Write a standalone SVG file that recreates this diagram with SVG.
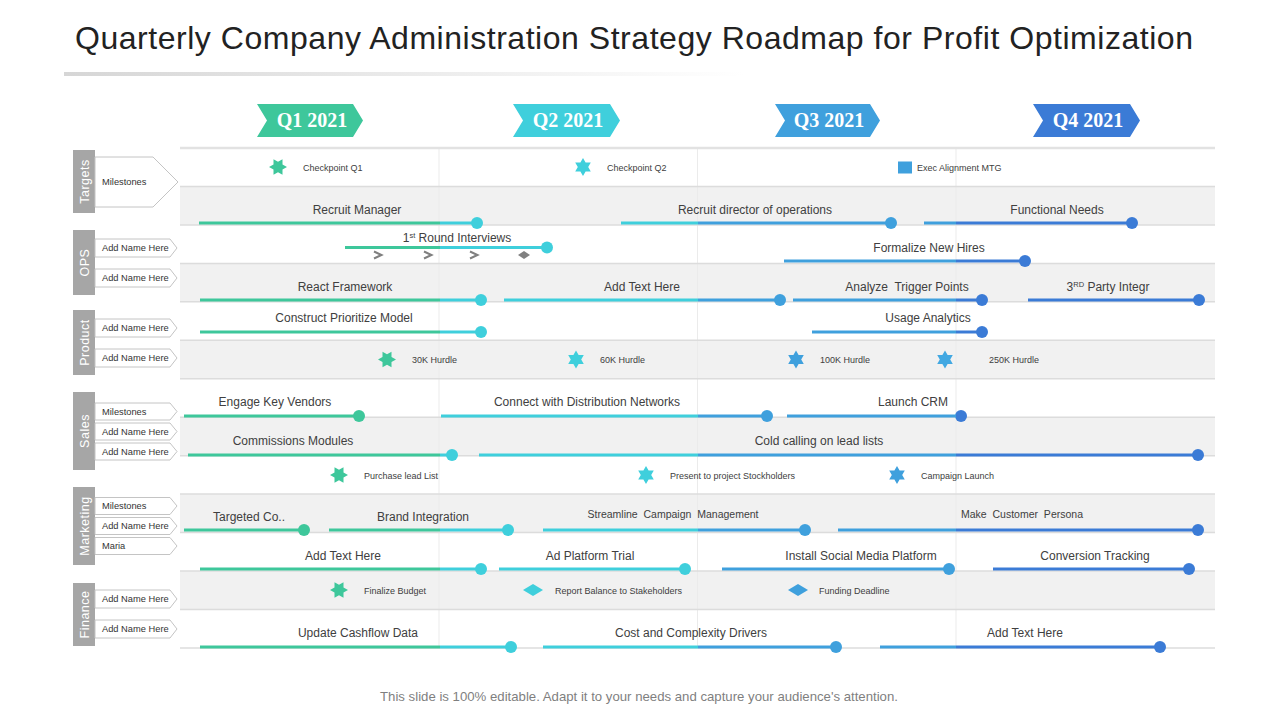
<svg xmlns="http://www.w3.org/2000/svg" xmlns:xlink="http://www.w3.org/1999/xlink" width="1280" height="720" viewBox="0 0 1280 720">
<defs>
<linearGradient id="qg" gradientUnits="userSpaceOnUse" x1="180" y1="0" x2="1215" y2="0">
<stop offset="0" stop-color="#3ec79b"/><stop offset="0.2512" stop-color="#3ec79b"/>
<stop offset="0.2512" stop-color="#3fcfdc"/><stop offset="0.5005" stop-color="#3fcfdc"/>
<stop offset="0.5005" stop-color="#3fa0dd"/><stop offset="0.7498" stop-color="#3fa0dd"/>
<stop offset="0.7498" stop-color="#3b7bd6"/><stop offset="1" stop-color="#3b7bd6"/>
</linearGradient>
<linearGradient id="ul" x1="0" y1="0" x2="1" y2="0">
<stop offset="0" stop-color="#d6d6d6"/><stop offset="1" stop-color="#ffffff"/>
</linearGradient>
<polygon id="starH" points="9,0 4.5,2.6 4.5,7.79 0,5.2 -4.5,7.79 -4.5,2.6 -9,0 -4.5,-2.6 -4.5,-7.79 0,-5.2 4.5,-7.79 4.5,-2.6"/>
<polygon id="starV" points="0,-9 2.6,-4.5 7.79,-4.5 5.2,0 7.79,4.5 2.6,4.5 0,9 -2.6,4.5 -7.79,4.5 -5.2,0 -7.79,-4.5 -2.6,-4.5"/>
<polygon id="tag" points="0,-9 75,-9 82,0 75,9 0,9"/>
<polygon id="tagS" points="0,-8.5 75,-8.5 82,0 75,8.5 0,8.5"/>
<polygon id="dia" points="-10,0 0,-6 10,0 0,6"/>
</defs>
<style>
text{font-family:"Liberation Sans",Arial,sans-serif}
.title{font-size:32px;fill:#222}
.q{font-family:"Liberation Serif","DejaVu Serif",serif;font-size:20px;font-weight:bold;fill:#fff;text-anchor:middle}
.band{fill:#f1f1f1}
.hl{stroke:#dcdcdc;stroke-width:1.5}
.vl{stroke:#ebebeb;stroke-width:1}
.cat{fill:#a6a6a6}
.catt{font-size:12.5px;fill:#fff;text-anchor:middle;letter-spacing:0.5px}
.tg{fill:#fff;stroke:#c4c4c4;stroke-width:1}
.tgt{font-size:9.3px;fill:#333}
.bar{stroke:url(#qg);stroke-width:3;fill:none}
.dot{fill:url(#qg)}
.lb{font-size:12px;fill:#404040;text-anchor:middle}
.lbs{font-size:10.5px;fill:#404040;text-anchor:middle}
.sm{font-size:9px;fill:#404040}
.chev{fill:none;stroke:#808080;stroke-width:2}
.foot{font-size:13.2px;fill:#7f7f7f;text-anchor:middle}
</style>

<g id="title">
<text class="title" x="75" y="49" textLength="1118" lengthAdjust="spacing">Quarterly Company Administration Strategy Roadmap for Profit Optimization</text>
<rect x="64" y="72" width="680" height="4" fill="url(#ul)"/>
</g>

<g id="quarters">
<g id="q1"><polygon points="257,104 353,104 363,120.5 353,137 257,137 267,120.5" fill="#3ec79b"/><text class="q" x="312" y="127">Q1 2021</text></g>
<g id="q2"><polygon points="513,104 610,104 620,120.5 610,137 513,137 523,120.5" fill="#3fcfdc"/><text class="q" x="568" y="127">Q2 2021</text></g>
<g id="q3"><polygon points="775,104 870,104 880,120.5 870,137 775,137 785,120.5" fill="#3fa0dd"/><text class="q" x="829" y="127">Q3 2021</text></g>
<g id="q4"><polygon points="1033,104 1130,104 1140,120.5 1130,137 1033,137 1043,120.5" fill="#3b7bd6"/><text class="q" x="1088" y="127">Q4 2021</text></g>
</g>

<g id="grid">
<rect class="band" x="180" y="186.5" width="1035" height="38.5"/>
<rect class="band" x="180" y="263.4" width="1035" height="38.5"/>
<rect class="band" x="180" y="340.3" width="1035" height="38.5"/>
<rect class="band" x="180" y="417.2" width="1035" height="38.5"/>
<rect class="band" x="180" y="494.1" width="1035" height="38.5"/>
<rect class="band" x="180" y="571" width="1035" height="38.5"/>
<line class="vl" x1="439" y1="148" x2="439" y2="648"/>
<line class="vl" x1="697.5" y1="148" x2="697.5" y2="648"/>
<line class="vl" x1="956" y1="148" x2="956" y2="648"/>
<line x1="180" y1="148" x2="1215" y2="148" stroke="#e2e2e2" stroke-width="2.5"/>
<line class="hl" x1="180" y1="186.5" x2="1215" y2="186.5"/>
<line class="hl" x1="180" y1="224.9" x2="1215" y2="224.9"/>
<line class="hl" x1="180" y1="263.4" x2="1215" y2="263.4"/>
<line class="hl" x1="180" y1="301.8" x2="1215" y2="301.8"/>
<line class="hl" x1="180" y1="340.3" x2="1215" y2="340.3"/>
<line class="hl" x1="180" y1="378.8" x2="1215" y2="378.8"/>
<line class="hl" x1="180" y1="417.2" x2="1215" y2="417.2"/>
<line class="hl" x1="180" y1="455.7" x2="1215" y2="455.7"/>
<line class="hl" x1="180" y1="494.1" x2="1215" y2="494.1"/>
<line class="hl" x1="180" y1="532.6" x2="1215" y2="532.6"/>
<line class="hl" x1="180" y1="571" x2="1215" y2="571"/>
<line class="hl" x1="180" y1="609.5" x2="1215" y2="609.5"/>
<line class="hl" x1="180" y1="648" x2="1215" y2="648"/>
</g>

<g id="cat-targets">
<rect class="cat" x="73" y="150" width="22" height="63"/>
<text class="catt" transform="translate(88.5,181.5) rotate(-90)">Targets</text>
<polygon class="tg" points="95,157 153,157 178,182 153,207 95,207"/>
<text class="tgt" x="102" y="185">Milestones</text>
</g>
<g id="cat-ops">
<rect class="cat" x="73" y="230" width="22" height="65"/>
<text class="catt" transform="translate(88.5,262.5) rotate(-90)">OPS</text>
<use href="#tag" class="tg" x="95" y="248"/><text class="tgt" x="102" y="251.3">Add Name Here</text>
<use href="#tag" class="tg" x="95" y="278"/><text class="tgt" x="102" y="281.3">Add Name Here</text>
</g>
<g id="cat-product">
<rect class="cat" x="73" y="310" width="22" height="65"/>
<text class="catt" transform="translate(88.5,342.5) rotate(-90)">Product</text>
<use href="#tag" class="tg" x="95" y="328"/><text class="tgt" x="102" y="331.3">Add Name Here</text>
<use href="#tag" class="tg" x="95" y="358"/><text class="tgt" x="102" y="361.3">Add Name Here</text>
</g>
<g id="cat-sales">
<rect class="cat" x="73" y="392" width="22" height="78"/>
<text class="catt" transform="translate(88.5,431) rotate(-90)">Sales</text>
<use href="#tagS" class="tg" x="95" y="411.5"/><text class="tgt" x="102" y="414.8">Milestones</text>
<use href="#tagS" class="tg" x="95" y="431.5"/><text class="tgt" x="102" y="434.8">Add Name Here</text>
<use href="#tagS" class="tg" x="95" y="451.5"/><text class="tgt" x="102" y="454.8">Add Name Here</text>
</g>
<g id="cat-marketing">
<rect class="cat" x="73" y="487" width="22" height="78"/>
<text class="catt" transform="translate(88.5,526) rotate(-90)">Marketing</text>
<use href="#tagS" class="tg" x="95" y="506"/><text class="tgt" x="102" y="509.3">Milestones</text>
<use href="#tagS" class="tg" x="95" y="526"/><text class="tgt" x="102" y="529.3">Add Name Here</text>
<use href="#tagS" class="tg" x="95" y="546"/><text class="tgt" x="102" y="549.3">Maria</text>
</g>
<g id="cat-finance">
<rect class="cat" x="73" y="583" width="22" height="63"/>
<text class="catt" transform="translate(88.5,614.5) rotate(-90)">Finance</text>
<use href="#tag" class="tg" x="95" y="599"/><text class="tgt" x="102" y="602.3">Add Name Here</text>
<use href="#tag" class="tg" x="95" y="629"/><text class="tgt" x="102" y="632.3">Add Name Here</text>
</g>

<g id="connectors"></g>

<!-- Row 1 milestones -->
<g id="m-checkpoint-q1"><use href="#starH" x="278" y="167" fill="#3ec79b"/><text class="sm" x="303" y="170.5">Checkpoint Q1</text></g>
<g id="m-checkpoint-q2"><use href="#starV" x="583" y="167" fill="#3fcfdc"/><text class="sm" x="607" y="170.5">Checkpoint Q2</text></g>
<g id="m-exec"><rect x="898" y="161.5" width="14" height="12" fill="#3fa0dd"/><text class="sm" x="917" y="170.5">Exec Alignment MTG</text></g>

<!-- Row 2 -->
<g id="t-recruit-manager"><line class="bar" x1="199" y1="223" x2="477" y2="223"/><circle class="dot" cx="477" cy="223" r="6"/><text class="lb" x="357" y="214">Recruit Manager</text></g>
<g id="t-recruit-director"><line class="bar" x1="621" y1="223" x2="891" y2="223"/><circle class="dot" cx="891" cy="223" r="6"/><text class="lb" x="755" y="214">Recruit director of operations</text></g>
<g id="t-functional"><line class="bar" x1="924" y1="223" x2="1132" y2="223"/><circle class="dot" cx="1132" cy="223" r="6"/><text class="lb" x="1057" y="214">Functional Needs</text></g>

<!-- Row 3 -->
<g id="t-round"><line class="bar" x1="345" y1="247.5" x2="547" y2="247.5"/><circle class="dot" cx="547" cy="247.5" r="6"/>
<text class="lb" x="457" y="242">1<tspan font-size="7.5" dy="-4">st</tspan><tspan dy="4"> Round Interviews</tspan></text>
<polyline class="chev" points="374,251.5 381.5,255 374,258.5"/>
<polyline class="chev" points="424,251.5 431.5,255 424,258.5"/>
<polyline class="chev" points="470,251.5 477.5,255 470,258.5"/>
<polygon points="518,255 524,251 530,255 524,259" fill="#808080"/>
</g>
<g id="t-formalize"><line class="bar" x1="784" y1="261" x2="1025" y2="261"/><circle class="dot" cx="1025" cy="261" r="6"/><text class="lb" x="929" y="252">Formalize New Hires</text></g>

<!-- Row 4 -->
<g id="t-react"><line class="bar" x1="200" y1="300" x2="481" y2="300"/><circle class="dot" cx="481" cy="300" r="6"/><text class="lb" x="345" y="291">React Framework</text></g>
<g id="t-addtext1"><line class="bar" x1="504" y1="300" x2="780" y2="300"/><circle class="dot" cx="780" cy="300" r="6"/><text class="lb" x="642" y="291">Add Text Here</text></g>
<g id="t-analyze"><line class="bar" x1="793" y1="300" x2="982" y2="300"/><circle class="dot" cx="982" cy="300" r="6"/><text class="lb" x="907" y="291" xml:space="preserve">Analyze  Trigger Points</text></g>
<g id="t-party"><line class="bar" x1="1028" y1="300" x2="1199" y2="300"/><circle class="dot" cx="1199" cy="300" r="6"/><text class="lb" x="1108" y="291">3<tspan font-size="7.5" dy="-4">RD</tspan><tspan dy="4"> Party Integr</tspan></text></g>

<!-- Row 5 -->
<g id="t-construct"><line class="bar" x1="200" y1="332" x2="481" y2="332"/><circle class="dot" cx="481" cy="332" r="6"/><text class="lb" x="344" y="322">Construct Prioritize Model</text></g>
<g id="t-usage"><line class="bar" x1="812" y1="332" x2="982" y2="332"/><circle class="dot" cx="982" cy="332" r="6"/><text class="lb" x="928" y="322">Usage Analytics</text></g>

<!-- Row 6 -->
<g id="m-30k"><use href="#starH" x="387" y="359.5" fill="#3ec79b"/><text class="sm" x="412" y="363">30K Hurdle</text></g>
<g id="m-60k"><use href="#starV" x="576" y="359.5" fill="#3fcfdc"/><text class="sm" x="600" y="363">60K Hurdle</text></g>
<g id="m-100k"><use href="#starV" x="796" y="359.5" fill="#3fa0dd"/><text class="sm" x="820" y="363">100K Hurdle</text></g>
<g id="m-250k"><use href="#starV" x="945" y="359.5" fill="#42a8e2"/><text class="sm" x="989" y="363">250K Hurdle</text></g>

<!-- Row 7 -->
<g id="t-engage"><line class="bar" x1="184" y1="416" x2="359" y2="416"/><circle class="dot" cx="359" cy="416" r="6"/><text class="lb" x="275" y="406">Engage Key Vendors</text></g>
<g id="t-connect"><line class="bar" x1="441" y1="416" x2="767" y2="416"/><circle class="dot" cx="767" cy="416" r="6"/><text class="lb" x="587" y="406">Connect with Distribution Networks</text></g>
<g id="t-crm"><line class="bar" x1="787" y1="416" x2="961" y2="416"/><circle class="dot" cx="961" cy="416" r="6"/><text class="lb" x="913" y="406">Launch CRM</text></g>

<!-- Row 8 -->
<g id="t-commissions"><line class="bar" x1="188" y1="455" x2="452" y2="455"/><circle class="dot" cx="452" cy="455" r="6"/><text class="lb" x="293" y="445">Commissions Modules</text></g>
<g id="t-cold"><line class="bar" x1="479" y1="455" x2="1198" y2="455"/><circle class="dot" cx="1198" cy="455" r="6"/><text class="lb" x="819" y="445">Cold calling on lead lists</text></g>

<!-- Row 9 -->
<g id="m-purchase"><use href="#starH" x="339" y="475" fill="#3ec79b"/><text class="sm" x="364" y="478.5">Purchase lead List</text></g>
<g id="m-present"><use href="#starV" x="646" y="475" fill="#3fcfdc"/><text class="sm" x="670" y="478.5">Present to project Stockholders</text></g>
<g id="m-campaign"><use href="#starV" x="897" y="475" fill="#3fa0dd"/><text class="sm" x="921" y="478.5">Campaign Launch</text></g>

<!-- Row 10 -->
<g id="t-targeted"><line class="bar" x1="184" y1="530" x2="304" y2="530"/><circle class="dot" cx="304" cy="530" r="6"/><text class="lb" x="249" y="521">Targeted Co..</text></g>
<g id="t-brand"><line class="bar" x1="329" y1="530" x2="508" y2="530"/><circle class="dot" cx="508" cy="530" r="6"/><text class="lb" x="423" y="521">Brand Integration</text></g>
<g id="t-streamline"><line class="bar" x1="543" y1="530" x2="805" y2="530"/><circle class="dot" cx="805" cy="530" r="6"/><text class="lbs" x="673" y="518" xml:space="preserve">Streamline  Campaign  Management</text></g>
<g id="t-persona"><line class="bar" x1="838" y1="530" x2="1198" y2="530"/><circle class="dot" cx="1198" cy="530" r="6"/><text class="lbs" x="1022" y="518" xml:space="preserve">Make  Customer  Persona</text></g>

<!-- Row 11 -->
<g id="t-addtext2"><line class="bar" x1="200" y1="569" x2="481" y2="569"/><circle class="dot" cx="481" cy="569" r="6"/><text class="lb" x="343" y="560">Add Text Here</text></g>
<g id="t-adplatform"><line class="bar" x1="499" y1="569" x2="685" y2="569"/><circle class="dot" cx="685" cy="569" r="6"/><text class="lb" x="590" y="560">Ad Platform Trial</text></g>
<g id="t-social"><line class="bar" x1="722" y1="569" x2="949" y2="569"/><circle class="dot" cx="949" cy="569" r="6"/><text class="lb" x="861" y="560">Install Social Media Platform</text></g>
<g id="t-conversion"><line class="bar" x1="993" y1="569" x2="1189" y2="569"/><circle class="dot" cx="1189" cy="569" r="6"/><text class="lb" x="1095" y="560">Conversion Tracking</text></g>

<!-- Row 12 -->
<g id="m-budget"><use href="#starH" x="339" y="590" fill="#3ec79b"/><text class="sm" x="364" y="593.5">Finalize Budget</text></g>
<g id="m-report"><use href="#dia" x="533" y="590" fill="#3fcfdc"/><text class="sm" x="555" y="593.5">Report Balance to Stakeholders</text></g>
<g id="m-funding"><use href="#dia" x="798" y="590" fill="#3fa0dd"/><text class="sm" x="819" y="593.5">Funding Deadline</text></g>

<!-- Row 13 -->
<g id="t-cashflow"><line class="bar" x1="200" y1="647" x2="511" y2="647"/><circle class="dot" cx="511" cy="647" r="6"/><text class="lb" x="358" y="637">Update Cashflow Data</text></g>
<g id="t-cost"><line class="bar" x1="543" y1="647" x2="836" y2="647"/><circle class="dot" cx="836" cy="647" r="6"/><text class="lb" x="691" y="637">Cost and Complexity Drivers</text></g>
<g id="t-addtext3"><line class="bar" x1="880" y1="647" x2="1160" y2="647"/><circle class="dot" cx="1160" cy="647" r="6"/><text class="lb" x="1025" y="637">Add Text Here</text></g>

<g id="footer"><text class="foot" x="639" y="701">This slide is 100% editable. Adapt it to your needs and capture your audience's attention.</text></g>
</svg>
